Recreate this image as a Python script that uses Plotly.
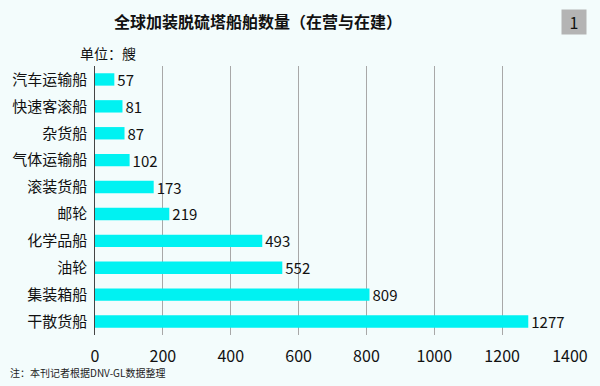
import plotly.graph_objects as go

categories = ["汽车运输船", "快速客滚船", "杂货船", "气体运输船", "滚装货船",
              "邮轮", "化学品船", "油轮", "集装箱船", "干散货船"]
values = [57, 81, 87, 102, 173, 219, 493, 552, 809, 1277]
tick_vals = [0, 200, 400, 600, 800, 1000, 1200, 1400]

BG = "#F3FCFC"
FONT = "Noto Sans CJK SC"

fig = go.Figure(go.Bar(
    y=categories, x=values, orientation="h",
    marker=dict(color="#00F2F2", line=dict(width=0)),
    width=0.46,
    text=[str(v) for v in values], textposition="outside",
    constraintext="none",
    textfont=dict(size=15, color="#111111", family=FONT),
    cliponaxis=False,
))

W, H = 600, 386
l, r, t, b = 95, 30, 66, 51

fig.update_layout(
    width=W, height=H,
    paper_bgcolor=BG, plot_bgcolor=BG,
    margin=dict(l=l, r=r, t=t, b=b, autoexpand=False),
    showlegend=False,
    font=dict(family=FONT, color="#111111"),
    xaxis=dict(range=[0, 1400], tickvals=tick_vals, showgrid=True,
               gridcolor="#A8A8A8", gridwidth=1, zeroline=False,
               showline=False, ticks="", tickfont=dict(size=16, family=FONT),
               ticklabelstandoff=10,
               automargin=False, fixedrange=True),
    yaxis=dict(autorange="reversed", showline=True, linecolor="#444444",
               linewidth=1.5, ticks="", showgrid=False,
               tickfont=dict(size=15, family=FONT), ticksuffix=" ",
               automargin=False, fixedrange=True),
    annotations=[
        dict(text="<b>全球加装脱硫塔船舶数量（在营与在建）</b>", x=258, y=21,
             showarrow=False, font=dict(size=16, family=FONT, color="#111111")),
        dict(text="单位：艘", x=108, y=53, showarrow=False,
             font=dict(size=14, family=FONT, color="#111111")),
        dict(text="1", x=574, y=22, showarrow=False, width=22, height=22,
             bgcolor="#B4B4B4", font=dict(size=16, family=FONT, color="#111111")),
        dict(text="注：本刊记者根据DNV-GL数据整理", x=8, y=372, showarrow=False,
             xanchor="left", font=dict(size=10, family=FONT, color="#222222")),
    ],
)

# convert pixel-positioned annotations to paper coordinates
pw, ph = W - l - r, H - t - b
for a in fig.layout.annotations:
    px, py = a.x, a.y
    a.x = (px - l) / pw
    a.y = 1 - (py - t) / ph
    a.xref = "paper"
    a.yref = "paper"
    if a.xanchor is None:
        a.xanchor = "center"
    a.yanchor = "middle"

fig.write_html(
    "out.html",
    config={"displayModeBar": False, "staticPlot": True},
    post_script="document.body.style.margin='0';document.body.style.background='%s';" % BG,
)
